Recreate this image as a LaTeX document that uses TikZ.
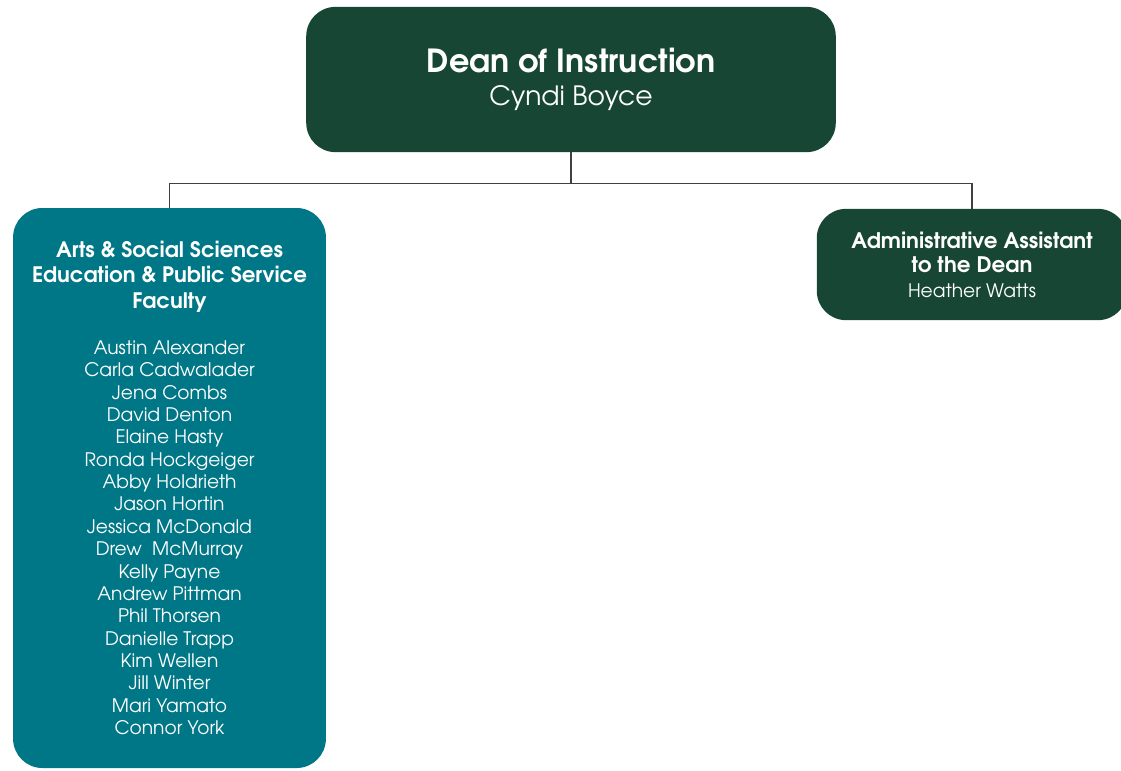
\documentclass[tikz,border=0pt]{standalone}
\usepackage{fontspec}
\setmainfont{TeX Gyre Adventor}
\usetikzlibrary{positioning}

\definecolor{deangreen}{HTML}{174734}
\definecolor{facteal}{HTML}{007786}
\definecolor{linkgray}{HTML}{404040}

\tikzset{
  unitbox/.style={rectangle, rounded corners=25pt, text=white, align=center, inner sep=0pt},
  link/.style={draw=linkgray, line width=0.9pt},
}

\begin{document}
\begin{tikzpicture}[x=0.03cm, y=-0.03cm]
\useasboundingbox (0,0) rectangle (1121,770);

% dean
\node[unitbox, fill=deangreen, minimum width=452pt, minimum height=124pt,
  font=\fontsize{22.7}{28.2}\selectfont] (dean) at (571,79.5)
  {{\bfseries\fontsize{27.2}{28.2}\selectfont Dean of Instruction}\\ Cyndi Boyce};

% faculty
\node[unitbox, fill=facteal, minimum width=267pt, minimum height=478pt,
  font=\fontsize{15.9}{19.1}\selectfont] (faculty) at (169.5,488)
  {{\bfseries\fontsize{18.2}{19.1}\selectfont Arts \& Social Sciences}\\[2.7pt]
   {\bfseries\fontsize{18.2}{19.1}\selectfont Education \& Public Service}\\[2.7pt]
   {\bfseries\fontsize{18.2}{19.1}\selectfont Faculty}\\[20pt]
   Austin Alexander\\ Carla Cadwalader\\ Jena Combs\\ David Denton\\
   Elaine Hasty\\ Ronda Hockgeiger\\ Abby Holdrieth\\ Jason Hortin\\
   Jessica McDonald\\ Drew\ \ McMurray\\ Kelly Payne\\ Andrew Pittman\\
   Phil Thorsen\\ Danielle Trapp\\ Kim Wellen\\ Jill Winter\\
   Mari Yamato\\ Connor York};

% assistant
\node[unitbox, fill=deangreen, minimum width=265pt, minimum height=95pt,
  font=\fontsize{15.9}{21}\selectfont] (assistant) at (972,264.5)
  {{\bfseries\fontsize{18.3}{21}\selectfont Administrative Assistant}\\
   {\bfseries\fontsize{18.3}{21}\selectfont to the Dean}\\
   Heather Watts};

\draw[link] (dean.south) -- ++(0,31) -| (faculty.north);
\draw[link] (dean.south) -- ++(0,31) -| (assistant.north);
\end{tikzpicture}
\end{document}
